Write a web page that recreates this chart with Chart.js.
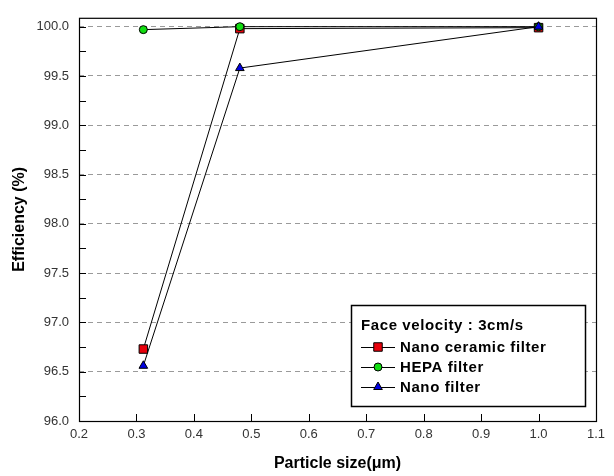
<!DOCTYPE html>
<html>
<head>
<meta charset="utf-8">
<script src="https://cdn.jsdelivr.net/npm/chart.js@4"></script>
<style>
  html, body { margin: 0; padding: 0; background: #fff; }
  #wrap { width: 614px; height: 476px; }
</style>
</head>
<body>
<div id="wrap"><canvas id="effChart"></canvas></div>
<script>
const particleSize = [0.312, 0.48, 1.0];
const nanoCeramic = [96.73, 99.98, 99.99];
const hepa = [99.97, 100.0, 100.0];
const nanoFilter = [96.56, 99.58, 100.0];
const seriesNames = ['Nano ceramic filter', 'HEPA filter', 'Nano filter'];
const legendTitle = 'Face velocity : 3cm/s';
const xTicks = [0.2, 0.3, 0.4, 0.5, 0.6, 0.7, 0.8, 0.9, 1.0, 1.1];
const yTicks = [96.0, 96.5, 97.0, 97.5, 98.0, 98.5, 99.0, 99.5, 100.0];

const FONT = '"Liberation Sans", Arial, sans-serif';

function points(ys) {
    return particleSize.map((x, i) => ({ x: x, y: ys[i] }));
}

// frame round the plot and short ticks pointing inwards
const frameTicks = {
    id: 'frameTicks',
    beforeDatasetsDraw(chart) {
        const { ctx, chartArea: a, scales } = chart;
        ctx.save();
        ctx.strokeStyle = '#000';
        ctx.lineWidth = 1.2;
        ctx.strokeRect(a.left + 0.5, a.top + 0.5, a.right - a.left, a.bottom - a.top);
        ctx.lineWidth = 1;
        ctx.beginPath();
        for (let v = 96; v <= 100.001; v += 0.25) {
            const y = Math.round(scales.y.getPixelForValue(v)) + 0.5;
            ctx.moveTo(a.left, y);
            ctx.lineTo(a.left + 7, y);
        }
        xTicks.forEach(v => {
            const x = Math.round(scales.x.getPixelForValue(v)) + 0.5;
            ctx.moveTo(x, a.bottom);
            ctx.lineTo(x, a.bottom - 7);
        });
        ctx.stroke();
        ctx.restore();
    }
};

// boxed legend inside the plot, lower right
const boxLegend = {
    id: 'boxLegend',
    afterDraw(chart) {
        const { ctx } = chart;
        const bx = 351, by = 305, bw = 234, bh = 101;
        ctx.save();
        ctx.fillStyle = '#fff';
        ctx.fillRect(bx, by, bw, bh);
        ctx.strokeStyle = '#000';
        ctx.lineWidth = 1.5;
        ctx.strokeRect(bx + 0.5, by + 0.5, bw, bh);
        ctx.fillStyle = '#000';
        ctx.font = 'bold 15px ' + FONT;
        ctx.letterSpacing = '0.6px';
        ctx.textBaseline = 'middle';
        ctx.textAlign = 'left';
        ctx.fillText(legendTitle, 361, 326);
        const rows = [347, 367, 387];
        chart.data.datasets.forEach((ds, i) => {
            const y = rows[i];
            ctx.beginPath();
            ctx.strokeStyle = '#000';
            ctx.lineWidth = 1;
            ctx.moveTo(361, y + 0.5);
            ctx.lineTo(395, y + 0.5);
            ctx.stroke();
            ctx.fillStyle = ds.pointBackgroundColor;
            ctx.strokeStyle = '#000';
            Chart.helpers.drawPoint(ctx, {
                pointStyle: ds.pointStyle,
                radius: ds.pointRadius,
                borderWidth: 1,
                rotation: 0
            }, 378, y);
            ctx.fillStyle = '#000';
            ctx.fillText(ds.label, 400, y + 1);
        });
        ctx.restore();
    }
};

new Chart(document.getElementById('effChart').getContext('2d'), {
    type: 'line',
    data: {
        datasets: [{
            label: seriesNames[0],
            data: points(nanoCeramic),
            order: 2,
            borderColor: '#000',
            borderWidth: 1,
            pointStyle: 'rect',
            pointRadius: 6,
            pointBackgroundColor: '#e8000b',
            pointBorderColor: '#000',
            pointBorderWidth: 1
        }, {
            label: seriesNames[1],
            data: points(hepa),
            order: 1,
            borderColor: '#000',
            borderWidth: 1,
            pointStyle: 'circle',
            pointRadius: 4,
            pointBackgroundColor: '#11dd11',
            pointBorderColor: '#000',
            pointBorderWidth: 1
        }, {
            label: seriesNames[2],
            data: points(nanoFilter),
            order: 0,
            borderColor: '#000',
            borderWidth: 1,
            pointStyle: 'triangle',
            pointRadius: 5,
            pointBackgroundColor: '#0000e0',
            pointBorderColor: '#000',
            pointBorderWidth: 1
        }]
    },
    options: {
        responsive: true,
        maintainAspectRatio: false,
        animation: false,
        clip: false,
        layout: { padding: { top: 11, right: 18, left: 0, bottom: 0 } },
        plugins: {
            legend: { display: false },
            tooltip: { enabled: false }
        },
        scales: {
            x: {
                type: 'linear',
                min: 0.2,
                max: 1.1,
                afterBuildTicks: s => { s.ticks = xTicks.map(v => ({ value: v })); },
                afterFit: s => { s.height = 55; },
                grid: { display: false, drawTicks: false },
                border: { display: false },
                ticks: {
                    padding: 6,
                    color: '#333',
                    font: { family: FONT, size: 13 },
                    callback: v => Number(v).toFixed(1)
                },
                title: {
                    display: true,
                    text: 'Particle size(μm)',
                    color: '#000',
                    font: { family: FONT, size: 16, weight: 'bold' },
                    padding: { top: 0, bottom: 3 }
                }
            },
            y: {
                min: 96,
                max: 100.09,
                afterBuildTicks: s => { s.ticks = yTicks.map(v => ({ value: v })); },
                afterFit: s => { s.width = 79; },
                grid: {
                    color: '#9a9a9a',
                    lineWidth: 1,
                    drawTicks: false
                },
                border: { display: false, dash: [5, 4] },
                ticks: {
                    padding: 10,
                    color: '#333',
                    font: { family: FONT, size: 13 },
                    callback: v => Number(v).toFixed(1)
                },
                title: {
                    display: true,
                    text: 'Efficiency (%)',
                    color: '#000',
                    font: { family: FONT, size: 16, weight: 'bold' },
                    padding: { top: 10, bottom: 0 }
                }
            }
        }
    },
    plugins: [frameTicks, boxLegend]
});
</script>
</body>
</html>
